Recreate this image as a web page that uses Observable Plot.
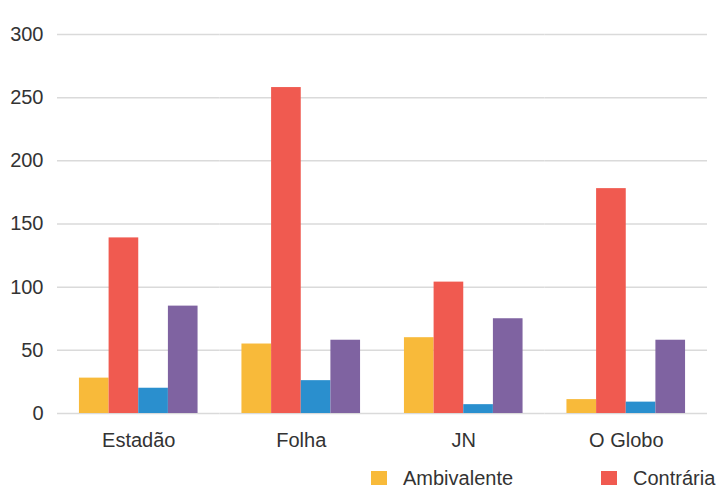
<!DOCTYPE html>
<html>
<head>
<meta charset="utf-8">
<script src="https://cdn.jsdelivr.net/npm/d3@7"></script>
<script src="https://cdn.jsdelivr.net/npm/@observablehq/plot@0.6"></script>
<style>
  html, body { margin: 0; padding: 0; background: #fff; overflow: hidden; width: 719px; height: 485px; }
  #wrap { position: relative; width: 719px; height: 485px; }
  #legend { position: absolute; top: 468px; left: 371px; display: flex; white-space: nowrap;
    font-family: 'Liberation Sans', Arial, sans-serif; font-size: 20px; line-height: 20px; color: #333; }
  .item { display: flex; align-items: flex-start; width: 230px; flex: none; }
  .sw { width: 16px; height: 16px; margin-top: 3px; margin-right: 16px; flex: none; }
</style>
</head>
<body>
<div id="wrap"><div id="chart"></div><div id="legend"></div></div>
<script>
const categories = ["Estadão", "Folha", "JN", "O Globo"];
const series = ["Ambivalente", "Contrária", "Favorável", "Neutra"];
const colors = ["#F8BA3A", "#F05A50", "#2A8FCE", "#7F63A1"];
const ambivalente = [28, 55, 60, 11];
const contraria = [139, 258, 104, 178];
const favoravel = [20, 26, 7, 9];
const neutra = [85, 58, 75, 58];
const yTicks = [0, 50, 100, 150, 200, 250, 300];
const legendShown = ["Ambivalente", "Contrária"];

const seriesValues = [ambivalente, contraria, favoravel, neutra];
const data = [];
categories.forEach((c, i) => {
  series.forEach((s, j) => data.push({cat: c, series: s, value: seriesValues[j][i]}));
});

const chart = Plot.plot({
  width: 719,
  height: 460,
  marginLeft: 57,
  marginRight: 12,
  marginTop: 34,
  marginBottom: 47,
  style: {fontFamily: "'Liberation Sans', Arial, sans-serif", fontSize: "20px", color: "#333", background: "#fff"},
  fx: {domain: categories, padding: 0, round: false, label: null, axis: "bottom", tickSize: 0, tickPadding: 19},
  x: {domain: series, axis: null, round: false, paddingInner: 0, paddingOuter: 0.74},
  y: {domain: [0, 300], ticks: yTicks, tickSize: 0, tickPadding: 14, label: null},
  color: {domain: series, range: colors},
  marks: [
    Plot.ruleY(yTicks, {stroke: "#dadada", strokeWidth: 1.5}),
    Plot.barY(data, {fx: "cat", x: "series", y: "value", fill: "series"})
  ]
});
document.getElementById("chart").appendChild(chart);

const legend = document.getElementById("legend");
legendShown.forEach((s) => {
  const j = series.indexOf(s);
  const it = document.createElement("div");
  it.className = "item";
  const sw = document.createElement("div");
  sw.className = "sw";
  sw.style.background = colors[j];
  const t = document.createElement("span");
  t.textContent = s;
  it.appendChild(sw);
  it.appendChild(t);
  legend.appendChild(it);
});
</script>
</body>
</html>
